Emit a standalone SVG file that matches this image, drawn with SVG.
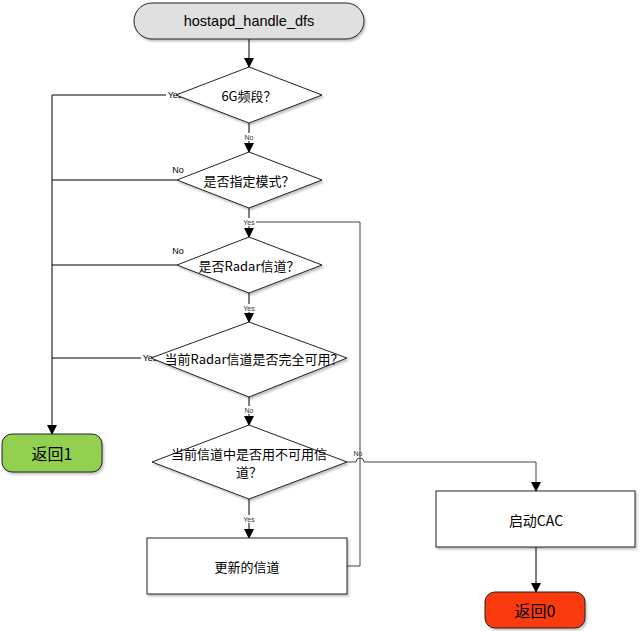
<svg xmlns="http://www.w3.org/2000/svg" width="641" height="631" viewBox="0 0 641 631">
<defs>
<marker id="ah" markerWidth="10" markerHeight="10" refX="9" refY="5" orient="auto" markerUnits="userSpaceOnUse">
<path d="M0,0 L10,5 L0,10 Z" fill="#000"/>
</marker>
<filter id="sh" x="-10%" y="-10%" width="130%" height="140%">
<feDropShadow dx="1.5" dy="2" stdDeviation="1.2" flood-color="#000" flood-opacity="0.25"/>
</filter>
</defs>
<style>
.t{font-family:"Noto Sans CJK SC","Liberation Sans",sans-serif;font-size:13px;fill:#000;text-anchor:middle;dominant-baseline:central}
.s{font-family:"Liberation Sans",sans-serif;font-size:9px;fill:#000;text-anchor:middle;dominant-baseline:central}
.xs{font-family:"Liberation Sans",sans-serif;font-size:7px;fill:#333;text-anchor:middle;dominant-baseline:central}
.n{stroke:#222;stroke-width:1;filter:url(#sh)}
.c{fill:none;stroke:#000;stroke-width:1}
.g{fill:none;stroke:#444;stroke-width:1}
</style>
<g id="connectors">
<path class="c" d="M249,39 V67" marker-end="url(#ah)"/>
<path class="c" d="M249,123 V152" marker-end="url(#ah)"/>
<path class="c" d="M249,208 V237" marker-end="url(#ah)"/>
<path class="c" d="M249,293 V322" marker-end="url(#ah)"/>
<path class="c" d="M249,397 V425" marker-end="url(#ah)"/>
<path class="c" d="M249,499 V538" marker-end="url(#ah)"/>
<path class="c" d="M176,95 H52 V434" marker-end="url(#ah)"/>
<path class="c" d="M177,180 H52"/>
<path class="c" d="M177,265 H52"/>
<path class="c" d="M151,358 H52"/>
<path class="g" d="M347,566 H360 V222 H249"/>
<path class="g" d="M347,462 H356 A4,4 0 0 1 364,462 H536 V491" marker-end="url(#ah)"/>
<path class="c" d="M536,547 V592" marker-end="url(#ah)"/>
<rect x="166" y="90" width="18" height="10" fill="#fff"/>
<text class="s" x="175" y="95">Yes</text>
<rect x="243" y="133" width="12" height="8" fill="#fff"/>
<text class="xs" x="249" y="137">No</text>
<text class="s" x="178" y="170">No</text>
<rect x="242" y="218" width="14" height="8" fill="#fff"/>
<text class="xs" x="249" y="222">Yes</text>
<text class="s" x="178" y="251">No</text>
<rect x="242" y="304" width="14" height="8" fill="#fff"/>
<text class="xs" x="249" y="308">Yes</text>
<rect x="141" y="353" width="18" height="10" fill="#fff"/>
<text class="s" x="150" y="358">Yes</text>
<rect x="243" y="406" width="12" height="8" fill="#fff"/>
<text class="xs" x="249" y="410">No</text>
<text class="xs" x="358" y="453">No</text>
<rect x="242" y="515" width="14" height="8" fill="#fff"/>
<text class="xs" x="249" y="519">Yes</text>
</g>
<g id="start">
<rect class="n" x="134" y="3" width="230" height="36" rx="18" fill="#e0e0e0"/>
<text class="t" x="249" y="21" style="font-family:'Liberation Sans',sans-serif;font-size:14.5px">hostapd_handle_dfs</text>
</g>
<g id="d1">
<polygon class="n" points="249,67 322,95 249,123 176,95" fill="#fff"/>
<text class="t" x="249" y="95">6G频段？</text>
</g>
<g id="d2">
<polygon class="n" points="249,152 322,180 249,208 177,180" fill="#fff"/>
<text class="t" x="249" y="180">是否指定模式？</text>
</g>
<g id="d3">
<polygon class="n" points="249,237 322,265 249,293 177,265" fill="#fff"/>
<text class="t" x="249" y="265">是否Radar信道？</text>
</g>
<g id="d4">
<polygon class="n" points="249,322 347,358 249,397 151,358" fill="#fff"/>
<text class="t" x="254" y="358">当前Radar信道是否完全可用？</text>
</g>
<g id="d5">
<polygon class="n" points="249,425 347,462 249,499 152,462" fill="#fff"/>
<text class="t" x="249" y="453">当前信道中是否用不可用信</text>
<text class="t" x="249" y="471">道？</text>
</g>
<g id="update">
<rect class="n" x="147" y="538" width="200" height="56" fill="#fff"/>
<text class="t" x="247" y="566">更新的信道</text>
</g>
<g id="ret1">
<rect class="n" x="2" y="434" width="100" height="38" rx="10" fill="#92d050"/>
<text class="t" x="52" y="453" style="font-size:16px">返回1</text>
</g>
<g id="cac">
<rect class="n" x="436" y="491" width="199" height="56" fill="#fff"/>
<text class="t" x="536" y="520" style="font-size:14px">启动CAC</text>
</g>
<g id="ret0">
<rect class="n" x="485" y="592" width="100" height="36" rx="10" fill="#fb3a0a"/>
<text class="t" x="535" y="610" style="font-size:16px">返回0</text>
</g>
</svg>
